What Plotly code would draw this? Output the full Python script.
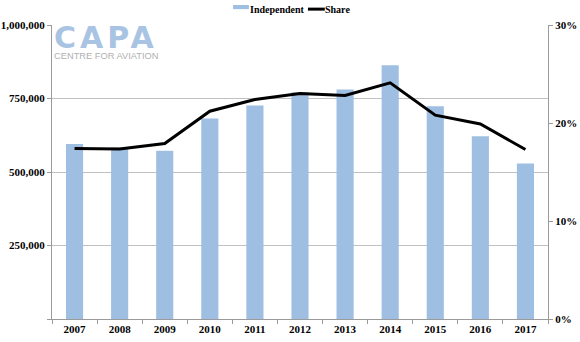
import plotly.graph_objects as go

years = ["2007", "2008", "2009", "2010", "2011", "2012", "2013", "2014", "2015", "2016", "2017"]
independent = [595000, 583000, 572000, 682000, 726000, 771000, 781000, 863000, 724000, 622000, 529000]
share = [17.4, 17.35, 17.9, 21.2, 22.4, 23.0, 22.8, 24.1, 20.8, 19.9, 17.3]

left_ticks = [0, 250000, 500000, 750000, 1000000]
left_labels = ["", "250,000", "500,000", "750,000", "1,000,000"]
right_ticks = [0, 10, 20, 30]
right_labels = ["0%", "10%", "20%", "30%"]

bar_color = "#9fbfe2"
font_family = "Liberation Serif"
tick_font = dict(family=font_family, size=11, color="black", weight="bold")

fig = go.Figure()
fig.add_trace(go.Bar(x=years, y=independent, name="Independent", showlegend=False,
                     marker=dict(color=bar_color, line=dict(width=0))))
fig.add_trace(go.Scatter(x=years, y=share, name="Share", yaxis="y2", mode="lines",
                         showlegend=False, line=dict(color="black", width=3)))

fig.update_layout(
    width=580, height=342,
    margin=dict(l=52, r=32, t=25, b=23, autoexpand=False),
    paper_bgcolor="white", plot_bgcolor="white",
    bargap=0.62,
    font=dict(family=font_family, size=11, color="black"),
    showlegend=False,
    xaxis=dict(showgrid=False, showline=True, linecolor="#9a9a9a", linewidth=1,
               ticks="outside", ticklen=4, tickcolor="#9a9a9a", tickson="boundaries",
               tickfont=tick_font, automargin=False),
    yaxis=dict(range=[0, 1000000], tickvals=left_ticks, ticktext=left_labels,
               showgrid=True, gridcolor="#c0c0c0", gridwidth=1, zeroline=False,
               showline=True, linecolor="#9a9a9a", linewidth=1,
               ticks="outside", ticklen=4, tickcolor="#9a9a9a",
               tickfont=tick_font, automargin=False),
    yaxis2=dict(range=[0, 30], tickvals=right_ticks, ticktext=right_labels,
                overlaying="y", side="right", showgrid=False, zeroline=False,
                showline=True, linecolor="#9a9a9a", linewidth=1,
                ticks="outside", ticklen=4, tickcolor="#9a9a9a",
                tickfont=tick_font, automargin=False),
)

# legend (drawn manually to match the compact original)
fig.add_shape(type="rect", xref="paper", yref="paper", x0=0.365, x1=0.397, y0=1.054, y1=1.068,
              fillcolor=bar_color, line=dict(width=0))
fig.add_annotation(xref="paper", yref="paper", x=0.396, y=1.052, xanchor="left", yanchor="middle",
                   text="Independent", showarrow=False,
                   font=dict(family=font_family, size=10, color="black", weight="bold"))
fig.add_shape(type="line", xref="paper", yref="paper", x0=0.516, x1=0.550, y0=1.054, y1=1.054,
              line=dict(color="black", width=3))
fig.add_annotation(xref="paper", yref="paper", x=0.547, y=1.052, xanchor="left", yanchor="middle",
                   text="Share", showarrow=False,
                   font=dict(family=font_family, size=10, color="black", weight="bold"))

# CAPA logo
fig.add_annotation(xref="paper", yref="paper", x=0.0, y=0.957, xanchor="left", yanchor="middle",
                   text="<span style='letter-spacing:4px'><b>CAPA</b></span>", showarrow=False,
                   font=dict(family="DejaVu Sans", size=30, color="#a9c4e3"))
fig.add_annotation(xref="paper", yref="paper", x=0.0, y=0.895, xanchor="left", yanchor="middle",
                   text="CENTRE FOR AVIATION", showarrow=False,
                   font=dict(family="Liberation Sans", size=9.3, color="#b0b0b0"))

fig.write_html("out.html")
